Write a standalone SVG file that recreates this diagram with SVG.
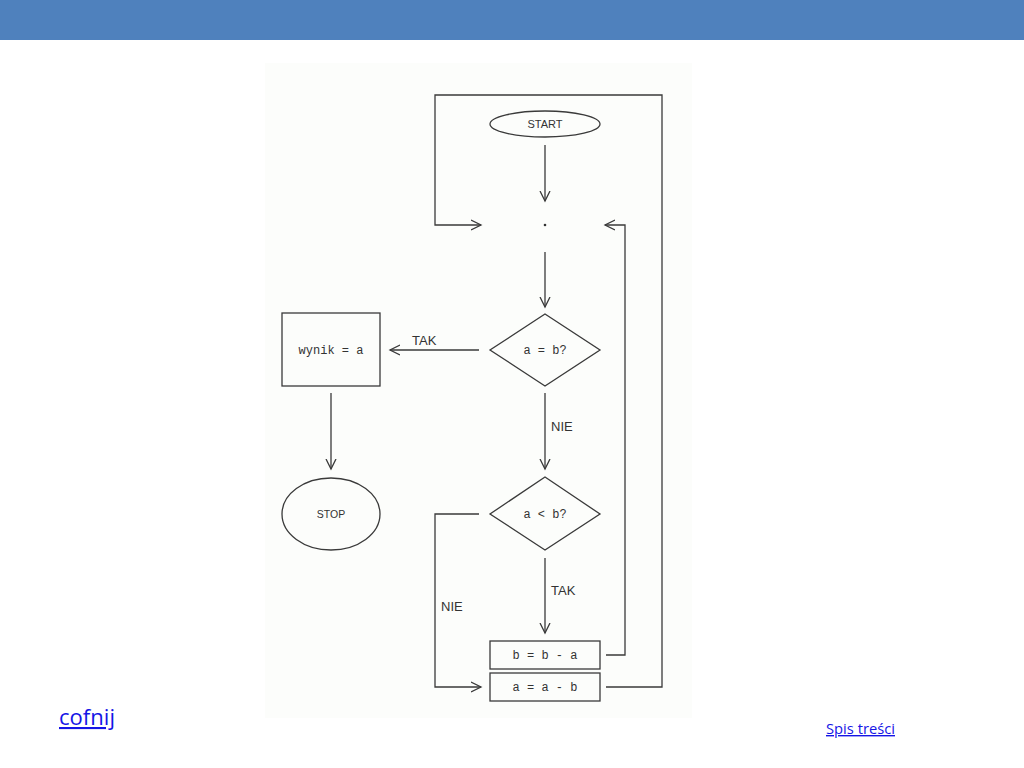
<svg xmlns="http://www.w3.org/2000/svg" width="1024" height="768" viewBox="0 0 1024 768">
<defs>
<style>
.ln{fill:none;stroke:#3a3a3a;stroke-width:1.3}
.sh{fill:none;stroke:#3a3a3a;stroke-width:1.3}
.mono{font-family:"Liberation Mono","DejaVu Sans Mono",monospace;font-size:12px;fill:#333}
.sans{font-family:"Liberation Sans",Arial,sans-serif;fill:#333}
.lnk{font-family:"Open Sans","Liberation Sans",sans-serif;fill:#1515e6;text-decoration:underline}
</style>
<marker id="ah" markerWidth="12" markerHeight="12" refX="10" refY="6" orient="auto" markerUnits="userSpaceOnUse">
<path d="M0,1 L10,6 L0,11" fill="none" stroke="#3a3a3a" stroke-width="1.3"/>
</marker>
</defs>
<rect width="1024" height="768" fill="#ffffff"/>
<rect x="0" y="0" width="1024" height="40" fill="#4f81bd"/>
<rect x="265" y="63" width="427" height="655" fill="#fcfdfb"/>

<g id="connectors">
<path class="ln" d="M545,145 L545,201" marker-end="url(#ah)"/>
<path class="ln" d="M606,687 L662,687 L662,95 L435,95 L435,225 L481,225" marker-end="url(#ah)"/>
<path class="ln" d="M606,655 L625,655 L625,225 L605,225" marker-end="url(#ah)"/>
<path class="ln" d="M545,252 L545,307" marker-end="url(#ah)"/>
<path class="ln" d="M479,350 L390,350" marker-end="url(#ah)"/>
<path class="ln" d="M331,393 L331,469" marker-end="url(#ah)"/>
<path class="ln" d="M545,393 L545,469" marker-end="url(#ah)"/>
<path class="ln" d="M479,514 L435,514 L435,687 L481,687" marker-end="url(#ah)"/>
<path class="ln" d="M545,558 L545,633" marker-end="url(#ah)"/>
<text class="sans" x="412" y="345" font-size="13">TAK</text>
<text class="sans" x="551" y="431" font-size="13">NIE</text>
<text class="sans" x="551" y="595" font-size="13">TAK</text>
<text class="sans" x="441" y="611" font-size="13">NIE</text>
</g>

<g id="start">
<ellipse class="sh" cx="545" cy="124" rx="55" ry="13"/>
<text class="sans" x="545" y="128" font-size="11" text-anchor="middle">START</text>
</g>
<g id="junction">
<circle cx="545" cy="225" r="1.3" fill="#333"/>
</g>
<g id="cond1">
<polygon class="sh" points="545,314 600,350 545,386 490,350"/>
<text class="mono" x="545" y="354" text-anchor="middle">a = b?</text>
</g>
<g id="result">
<rect class="sh" x="282" y="313" width="98" height="73"/>
<text class="mono" x="331" y="354" text-anchor="middle">wynik = a</text>
</g>
<g id="stop">
<ellipse class="sh" cx="331" cy="514" rx="49" ry="36"/>
<text class="sans" x="331" y="518" font-size="10.5" text-anchor="middle">STOP</text>
</g>
<g id="cond2">
<polygon class="sh" points="545,477 600,514 545,550 490,514"/>
<text class="mono" x="545" y="518" text-anchor="middle">a &lt; b?</text>
</g>
<g id="subB">
<rect class="sh" x="490" y="641" width="110" height="28"/>
<text class="mono" x="545" y="659" text-anchor="middle">b = b - a</text>
</g>
<g id="subA">
<rect class="sh" x="490" y="673" width="110" height="28"/>
<text class="mono" x="545" y="691" text-anchor="middle">a = a - b</text>
</g>

<text class="lnk" x="59" y="725" font-size="21" textLength="56" lengthAdjust="spacingAndGlyphs">cofnij</text>
<text class="lnk" x="826" y="734" font-size="14" textLength="69" lengthAdjust="spacingAndGlyphs">Spis treści</text>
</svg>
